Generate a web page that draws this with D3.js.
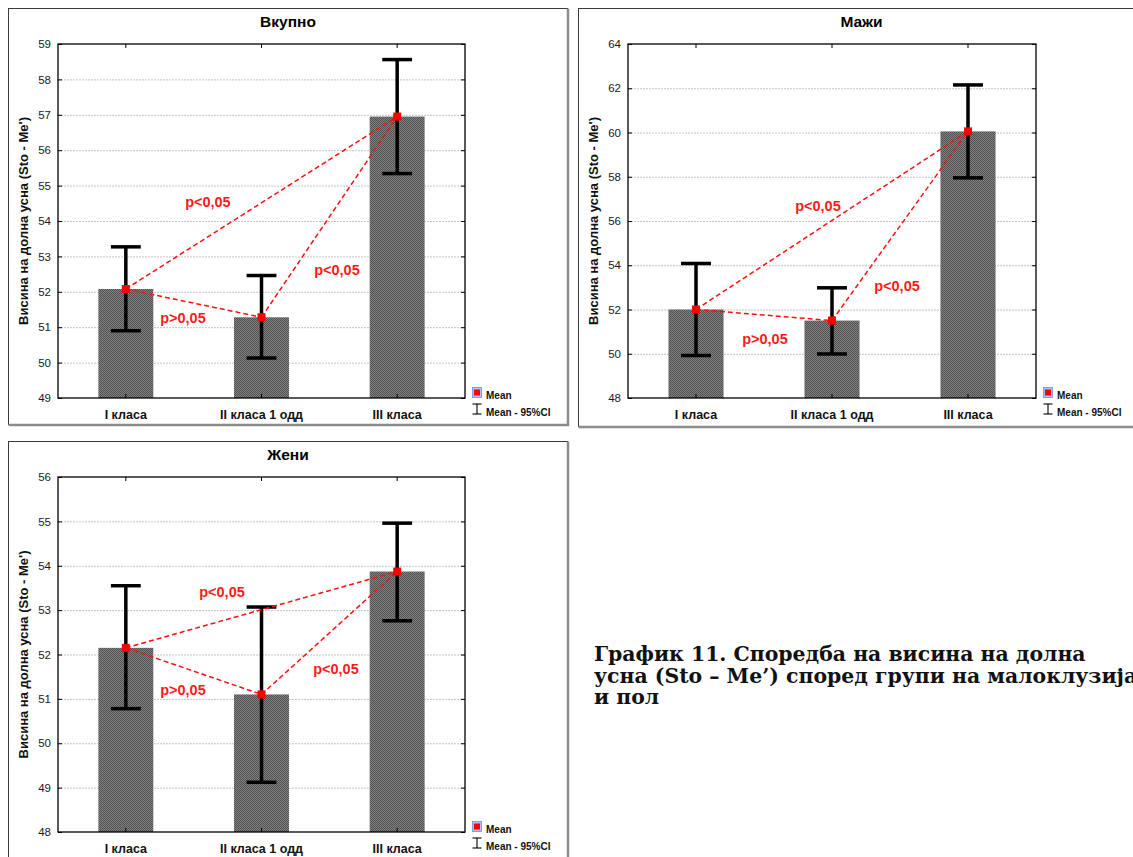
<!DOCTYPE html>
<html>
<head>
<meta charset="utf-8">
<script src="https://cdn.jsdelivr.net/npm/d3@7"></script>
<style>
  html, body { margin: 0; padding: 0; background: #fff; }
  svg { display: block; }
</style>
</head>
<body>
<svg id="chart" width="1133" height="857"></svg>
<script>
// Groups of malocclusion
const categories = ["I класа", "II класа 1 одд", "III класа"];

// Lower lip height (Sto - Me'): means with 95% confidence limits
const totalMean = [52.08, 51.28, 56.95];
const totalLow  = [50.90, 50.13, 55.34];
const totalHigh = [53.27, 52.46, 58.56];

const menMean = [52.00, 51.50, 60.05];
const menLow  = [49.92, 49.99, 57.95];
const menHigh = [54.08, 52.98, 62.15];

const womenMean = [52.15, 51.10, 53.87];
const womenLow  = [50.78, 49.12, 52.76];
const womenHigh = [53.55, 53.07, 54.96];

// Y tick values per panel
const totalTicks = [49, 50, 51, 52, 53, 54, 55, 56, 57, 58, 59];
const menTicks   = [48, 50, 52, 54, 56, 58, 60, 62, 64];
const womenTicks = [48, 49, 50, 51, 52, 53, 54, 55, 56];

// Pairwise comparisons (group indices) and their p-value labels
const comparisons = [[0, 2], [0, 1], [1, 2]];
const totalP = ["p<0,05", "p>0,05", "p<0,05"];
const menP   = ["p<0,05", "p>0,05", "p<0,05"];
const womenP = ["p<0,05", "p>0,05", "p<0,05"];

const panelTitles = ["Вкупно", "Мажи", "Жени"];
const yLabel = "Висина на долна усна (Sto - Me')";
const legendLabels = ["Mean", "Mean - 95%CI"];
const captionLines = [
  "График 11. Споредба на висина на долна",
  "усна (Sto – Me’) според групи на малоклузија",
  "и пол"
];

const svg = d3.select("#chart");
const FONT = "'Liberation Sans', Arial, sans-serif";

// stippled dark-gray fill of the bars
const defs = svg.append("defs");
const pat = defs.append("pattern")
  .attr("id", "stipple").attr("patternUnits", "userSpaceOnUse")
  .attr("width", 2).attr("height", 2);
pat.append("rect").attr("width", 2).attr("height", 2).attr("fill", "#808080");
pat.append("rect").attr("width", 1).attr("height", 1).attr("fill", "#525252");
pat.append("rect").attr("x", 1).attr("y", 1).attr("width", 1).attr("height", 1).attr("fill", "#525252");

function drawPanel(cfg) {
  const g = svg.append("g");
  const f = cfg.frame, p = cfg.plot;

  // panel frame with a grey shadow on the right and bottom edges
  g.append("rect").attr("x", f.x).attr("y", f.y).attr("width", f.w).attr("height", f.h)
    .attr("fill", "#fff").attr("stroke", "#3a3a3a").attr("stroke-width", 1);
  g.append("line").attr("x1", f.x + f.w + 0.5).attr("x2", f.x + f.w + 0.5)
    .attr("y1", f.y).attr("y2", f.y + f.h + 1.5)
    .attr("stroke", "#8c8c8c").attr("stroke-width", 2.5);
  g.append("line").attr("x1", f.x).attr("x2", f.x + f.w + 1.5)
    .attr("y1", f.y + f.h + 0.5).attr("y2", f.y + f.h + 0.5)
    .attr("stroke", "#8c8c8c").attr("stroke-width", 2.5);

  const x = d3.scaleBand().domain(d3.range(categories.length))
    .range([p.x, p.x + p.w]).paddingInner(0).paddingOuter(0);
  const y = d3.scaleLinear().domain(cfg.domain).range([p.y + p.h, p.y]);
  const cx = i => x(i) + x.bandwidth() / 2;
  const bw = x.bandwidth() * 0.405;
  const capW = x.bandwidth() * 0.22;

  // title
  g.append("text").attr("x", f.x + f.w / 2).attr("y", p.y - 17)
    .attr("text-anchor", "middle").attr("font-family", FONT)
    .attr("font-weight", "bold").attr("font-size", 15.5).attr("fill", "#000")
    .text(cfg.title);

  // grid lines
  g.append("g").selectAll("line")
    .data(cfg.ticks.filter(t => t !== cfg.domain[0] && t !== cfg.domain[1]))
    .join("line")
    .attr("x1", p.x).attr("x2", p.x + p.w)
    .attr("y1", d => y(d) + 0.5).attr("y2", d => y(d) + 0.5)
    .attr("stroke", "#c4c4c4").attr("stroke-width", 1).attr("stroke-dasharray", "2,1");

  // bars
  g.append("g").selectAll("rect").data(cfg.mean).join("rect")
    .attr("x", (d, i) => cx(i) - bw / 2).attr("width", bw)
    .attr("y", d => y(d)).attr("height", d => y(cfg.domain[0]) - y(d))
    .attr("fill", "url(#stipple)");

  // y axis (left) with tick labels
  const yAxis = d3.axisLeft(y).tickValues(cfg.ticks).tickSize(-4).tickPadding(7)
    .tickFormat(d3.format("d"));
  const ya = g.append("g").attr("transform", `translate(${p.x},0)`).call(yAxis);
  ya.select(".domain").remove();
  ya.selectAll(".tick line").attr("stroke", "#000");
  ya.selectAll("text").attr("font-family", FONT).attr("font-size", 11.5).attr("fill", "#1a1a1a");

  // right axis ticks
  const yr = g.append("g").attr("transform", `translate(${p.x + p.w},0)`)
    .call(d3.axisRight(y).tickValues(cfg.ticks).tickSize(-4).tickFormat(""));
  yr.select(".domain").remove();
  yr.selectAll(".tick line").attr("stroke", "#000");

  // bottom axis with category labels
  const xb = g.append("g").attr("transform", `translate(0,${p.y + p.h})`)
    .call(d3.axisBottom(x).tickSize(-4).tickPadding(12).tickFormat(i => categories[i]));
  xb.select(".domain").remove();
  xb.selectAll(".tick line").attr("stroke", "#000");
  xb.selectAll("text").attr("font-family", FONT).attr("font-size", 12.5)
    .attr("font-weight", "bold").attr("fill", "#111");

  // top axis ticks
  const xt = g.append("g").attr("transform", `translate(0,${p.y})`)
    .call(d3.axisTop(x).tickSize(-4).tickFormat(""));
  xt.select(".domain").remove();
  xt.selectAll(".tick line").attr("stroke", "#000");

  // plot border
  g.append("rect").attr("x", p.x).attr("y", p.y).attr("width", p.w).attr("height", p.h)
    .attr("fill", "none").attr("stroke", "#000").attr("stroke-width", 1.3);

  // y axis title
  g.append("text")
    .attr("transform", `translate(${f.x + 15},${p.y + p.h / 2}) rotate(-90)`)
    .attr("text-anchor", "middle").attr("dominant-baseline", "central")
    .attr("font-family", FONT).attr("font-weight", "bold").attr("font-size", 13)
    .attr("fill", "#111").text(yLabel);

  // 95% CI whiskers
  const eb = g.append("g").attr("stroke", "#000").attr("stroke-width", 3.5);
  cfg.mean.forEach((m, i) => {
    eb.append("line").attr("x1", cx(i)).attr("x2", cx(i))
      .attr("y1", y(cfg.high[i])).attr("y2", y(cfg.low[i]));
    eb.append("line").attr("x1", cx(i) - capW / 2).attr("x2", cx(i) + capW / 2)
      .attr("y1", y(cfg.high[i])).attr("y2", y(cfg.high[i]));
    eb.append("line").attr("x1", cx(i) - capW / 2).attr("x2", cx(i) + capW / 2)
      .attr("y1", y(cfg.low[i])).attr("y2", y(cfg.low[i]));
  });

  // comparison lines between group means
  g.append("g").selectAll("line").data(comparisons).join("line")
    .attr("x1", d => cx(d[0])).attr("y1", d => y(cfg.mean[d[0]]))
    .attr("x2", d => cx(d[1])).attr("y2", d => y(cfg.mean[d[1]]))
    .attr("stroke", "#ff1010").attr("stroke-width", 1.5).attr("stroke-dasharray", "5,3");

  // mean markers
  g.append("g").selectAll("rect").data(cfg.mean).join("rect")
    .attr("x", (d, i) => cx(i) - 4).attr("y", d => y(d) - 4)
    .attr("width", 8).attr("height", 8).attr("fill", "#ff0000");

  // p-value labels, anchored in category/value units
  const xPos = t => p.x + x.bandwidth() * (t + 0.5);
  g.append("g").selectAll("text").data(cfg.pLabels).join("text")
    .attr("x", (d, i) => xPos(cfg.pAnchor[i][0])).attr("y", (d, i) => y(cfg.pAnchor[i][1]))
    .attr("text-anchor", "middle").attr("dominant-baseline", "central")
    .attr("font-family", FONT).attr("font-weight", "bold").attr("font-size", 14.5)
    .attr("fill", "#ff1a1a").text(d => d);

  // legend
  const lx = p.x + p.w + 12, ly = p.y + p.h - 5;
  g.append("rect").attr("x", lx - 4.5).attr("y", ly - 5.5).attr("width", 9).attr("height", 10)
    .attr("fill", "#a9c4ee").attr("stroke", "#6d8fcf").attr("stroke-width", 0.8);
  g.append("rect").attr("x", lx - 3).attr("y", ly - 3.5).attr("width", 6).attr("height", 6)
    .attr("fill", "#ff0000");
  const iy = ly + 17;
  const ib = g.append("g").attr("stroke", "#000").attr("stroke-width", 1.1);
  ib.append("line").attr("x1", lx).attr("x2", lx).attr("y1", iy - 6).attr("y2", iy + 4);
  ib.append("line").attr("x1", lx - 4.5).attr("x2", lx + 4.5).attr("y1", iy - 6).attr("y2", iy - 6);
  ib.append("line").attr("x1", lx - 4.5).attr("x2", lx + 4.5).attr("y1", iy + 4).attr("y2", iy + 4);
  g.append("g").selectAll("text").data(legendLabels).join("text")
    .attr("x", lx + 9).attr("y", (d, i) => ly + 2 + i * 17)
    .attr("dominant-baseline", "central")
    .attr("font-family", FONT).attr("font-weight", "bold").attr("font-size", 10)
    .attr("fill", "#111").text(d => d);
}

drawPanel({
  title: panelTitles[0],
  frame: { x: 8.5, y: 8.5, w: 559, h: 416 },
  plot: { x: 58, y: 44, w: 407, h: 354 },
  domain: [49, 59], ticks: totalTicks,
  mean: totalMean, low: totalLow, high: totalHigh,
  pLabels: totalP,
  pAnchor: [[0.605, 54.54], [0.421, 51.26], [1.556, 52.62]]
});

drawPanel({
  title: panelTitles[1],
  frame: { x: 578.5, y: 8.5, w: 566, h: 418 },
  plot: { x: 628, y: 44, w: 408, h: 354 },
  domain: [48, 64], ticks: menTicks,
  mean: menMean, low: menLow, high: menHigh,
  pLabels: menP,
  pAnchor: [[0.897, 56.68], [0.507, 50.67], [1.478, 53.06]]
});

drawPanel({
  title: panelTitles[2],
  frame: { x: 8.5, y: 441.5, w: 559, h: 430 },
  plot: { x: 58, y: 477, w: 407, h: 355 },
  domain: [48, 56], ticks: womenTicks,
  mean: womenMean, low: womenLow, high: womenHigh,
  pLabels: womenP,
  pAnchor: [[0.709, 53.40], [0.421, 51.21], [1.549, 51.67]]
});

// figure caption
const cap = svg.append("text")
  .attr("font-family", "'DejaVu Serif', 'Liberation Serif', serif")
  .attr("font-weight", "bold").attr("font-size", 18).attr("fill", "#111");
cap.selectAll("tspan").data(captionLines).join("tspan")
  .attr("x", 594).attr("y", (d, i) => 661 + i * 21.5).text(d => d);
// fit the first caption line to its column width
const firstLine = cap.select("tspan").node();
const w0 = firstLine.getComputedTextLength();
cap.attr("font-size", 18 * 492 / w0);
</script>
</body>
</html>
